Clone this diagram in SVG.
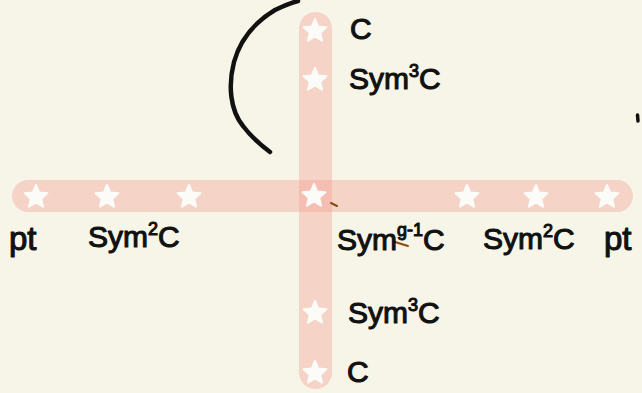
<svg xmlns="http://www.w3.org/2000/svg" width="642" height="393" viewBox="0 0 642 393">
<style>
.band{fill:#f5a096;fill-opacity:0.4}
.lbl{font-family:"Liberation Sans","DejaVu Sans",sans-serif;font-size:30px;fill:#111;stroke:#111;stroke-width:1.1;stroke-linejoin:round}
.big{font-size:33px}
.sup{font-size:18px}
.star{fill:#fbfbf8;stroke:#fbfbf8;stroke-width:2;stroke-linejoin:round}
</style>
<defs>
<path id="st" d="M0,-12 L3.23,-4.45 L11.41,-3.71 L5.23,1.7 L7.05,9.71 L0,5.5 L-7.05,9.71 L-5.23,1.7 L-11.41,-3.71 L-3.23,-4.45 Z"/>
</defs>
<rect width="642" height="393" fill="#f7f5e8"/>
<g id="connectors">
<rect class="band" x="12" y="180" width="621" height="32" rx="16"/>
<rect class="band" x="299" y="12" width="33" height="377" rx="16.5"/>
<path d="M298,1 C290,3 283,6 275,10 C255,22 240,40 234,62 C228,85 230,110 243,126 C252,138 262,146 270,152" fill="none" stroke="#111" stroke-width="4.5" stroke-linecap="round"/>
<path d="M637.5,115 L638,121" stroke="#111" stroke-width="3.5" stroke-linecap="round"/>
<path d="M331,203 L337,206" stroke="#8a4a10" stroke-width="2" stroke-linecap="round"/>
<path d="M395,242 L408,246" stroke="#8a4a10" stroke-width="2" stroke-linecap="round"/>
</g>
<g id="node-top-C"><use href="#st" class="star" x="315" y="31"/><text class="lbl" x="350" y="39">C</text></g>
<g id="node-top-sym3"><use href="#st" class="star" x="315" y="80"/><text class="lbl" x="349" y="89">Sym<tspan class="sup" dy="-12">3</tspan><tspan dy="12">C</tspan></text></g>
<g id="node-left-pt"><use href="#st" class="star" x="36" y="197"/><text class="lbl big" x="9" y="250">pt</text></g>
<g id="node-left-sym2"><use href="#st" class="star" x="107" y="197"/><text class="lbl" x="88" y="247">Sym<tspan class="sup" dy="-12">2</tspan><tspan dy="12">C</tspan></text></g>
<g id="node-left-3"><use href="#st" class="star" x="189" y="197"/></g>
<g id="node-center"><use href="#st" class="star" x="314" y="196"/><text class="lbl" x="337" y="250">Sym<tspan class="sup" dy="-14">g-1</tspan><tspan dy="14">C</tspan></text></g>
<g id="node-right-1"><use href="#st" class="star" x="467" y="197"/></g>
<g id="node-right-sym2"><use href="#st" class="star" x="536" y="197"/><text class="lbl" x="483" y="249">Sym<tspan class="sup" dy="-12">2</tspan><tspan dy="12">C</tspan></text></g>
<g id="node-right-pt"><use href="#st" class="star" x="607" y="197"/><text class="lbl big" x="604" y="250">pt</text></g>
<g id="node-bot-sym3"><use href="#st" class="star" x="315" y="313"/><text class="lbl" x="348" y="323">Sym<tspan class="sup" dy="-12">3</tspan><tspan dy="12">C</tspan></text></g>
<g id="node-bot-C"><use href="#st" class="star" x="315" y="373"/><text class="lbl" x="347" y="382">C</text></g>
</svg>
